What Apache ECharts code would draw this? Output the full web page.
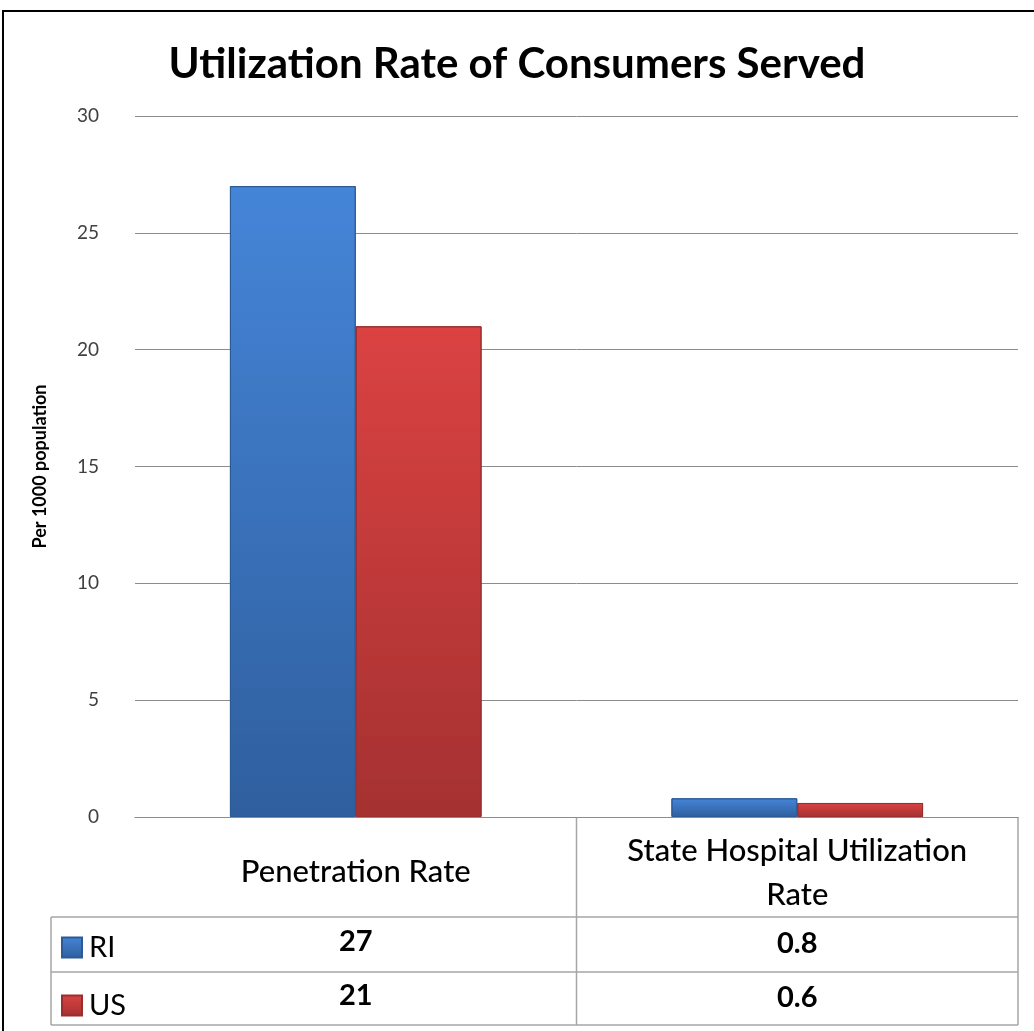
<!DOCTYPE html>
<html>
<head>
<meta charset="utf-8">
<script src="https://cdn.jsdelivr.net/npm/echarts@6/dist/echarts.min.js"></script>
<style>
  html, body { margin: 0; padding: 0; background: #fff; }
  #chart { width: 1034px; height: 1031px; }
</style>
</head>
<body>
<div id="chart"></div>
<script>
const categories = ['Penetration Rate', 'State Hospital Utilization\nRate'];
const seriesNames = ['RI', 'US'];
const riValues = [27, 0.8];
const usValues = [21, 0.6];
const yTicks = { min: 0, max: 30, interval: 5 };

const FONT = 'Lato';
const gridLeft = 135, gridRight = 16, gridTop = 116, gridBottom = 214;

function barGradient(top, bottom) {
    return new echarts.graphic.LinearGradient(0, 0, 0, 1, [
        { offset: 0, color: top },
        { offset: 1, color: bottom }
    ]);
}
const riColor = barGradient('#4585d8', '#2f5f9e');
const usColor = barGradient('#db4242', '#a53131');

// header text + the two value rows under each category
function labelFor(value, index) {
    const head = value.split('\n');
    let s = head.length > 1
        ? head.map(h => '{h|' + h + '}').join('\n')
        : '{hh|' + head[0] + '}';
    s += '\n{v|' + riValues[index] + '}\n{v|' + usValues[index] + '}';
    return s;
}

const chart = echarts.init(document.getElementById('chart'));

const option = {
    animation: false,
    backgroundColor: '#fff',
    title: {
        text: 'Utilization Rate of Consumers Served',
        left: 'center',
        top: 38,
        textStyle: { fontFamily: FONT, fontSize: 42, fontWeight: 'bold', color: '#000' }
    },
    legend: {
        data: seriesNames,
        orient: 'vertical',
        left: 61,
        top: 933,
        padding: 0,
        itemWidth: 20,
        itemHeight: 20,
        itemGap: 29,
        icon: 'rect',
        textStyle: { fontFamily: FONT, fontSize: 29, color: '#000', padding: [0, 0, 0, 2] }
    },
    grid: { left: gridLeft, right: gridRight, top: gridTop, bottom: gridBottom },
    xAxis: {
        type: 'category',
        data: categories,
        axisLine: { lineStyle: { color: '#8c8c8c', width: 1 } },
        axisTick: { show: false },
        axisLabel: {
            interval: 0,
            margin: 12,
            formatter: labelFor,
            rich: {
                h: { fontFamily: FONT, fontSize: 31, fontWeight: 500, lineHeight: 44, color: '#000', align: 'center' },
                hh: { fontFamily: FONT, fontSize: 31, fontWeight: 500, lineHeight: 86, color: '#000', align: 'center' },
                v: { fontFamily: FONT, fontSize: 29, fontWeight: 'bold', lineHeight: 54, color: '#000', align: 'center' }
            }
        }
    },
    yAxis: {
        type: 'value',
        min: yTicks.min,
        max: yTicks.max,
        interval: yTicks.interval,
        name: 'Per 1000 population',
        nameLocation: 'middle',
        nameGap: 86,
        nameTextStyle: { fontFamily: FONT, fontSize: 18, fontWeight: 'bold', color: '#000' },
        axisLine: { show: false },
        axisTick: { show: false },
        axisLabel: { fontFamily: FONT, fontSize: 19, color: '#404040', margin: 36 },
        splitLine: { lineStyle: { color: '#8c8c8c', width: 1 } }
    },
    series: [
        {
            name: 'RI',
            type: 'bar',
            data: riValues,
            barWidth: '28.5%',
            barGap: '0%',
            itemStyle: { color: riColor, borderColor: '#2c5a96', borderWidth: 1 }
        },
        {
            name: 'US',
            type: 'bar',
            data: usValues,
            barWidth: '28.5%',
            itemStyle: { color: usColor, borderColor: '#9a2e2e', borderWidth: 1 }
        }
    ]
};

chart.setOption(option);

// data table frame lines drawn around the axis labels
const axisY = chart.convertToPixel({ yAxisIndex: 0 }, 0);
const rightX = 1034 - gridRight;
const midX = (gridLeft + rightX) / 2;
const tableLeft = 51;
const rowTops = [917, 972, 1025];
const lineStyle = { stroke: '#a6a6a6', lineWidth: 1.5 };
const lines = [];
rowTops.forEach(y => lines.push({ type: 'line', shape: { x1: tableLeft, y1: y, x2: rightX, y2: y }, style: lineStyle }));
lines.push({ type: 'line', shape: { x1: tableLeft, y1: rowTops[0], x2: tableLeft, y2: rowTops[2] }, style: lineStyle });
lines.push({ type: 'line', shape: { x1: midX, y1: axisY, x2: midX, y2: rowTops[2] }, style: lineStyle });
lines.push({ type: 'line', shape: { x1: rightX, y1: axisY, x2: rightX, y2: rowTops[2] }, style: lineStyle });
// outer frame
lines.push({ type: 'rect', shape: { x: 3, y: 11, width: 1100, height: 1100 }, style: { fill: null, stroke: '#000', lineWidth: 2 } });

chart.setOption({ graphic: lines });
</script>
</body>
</html>
